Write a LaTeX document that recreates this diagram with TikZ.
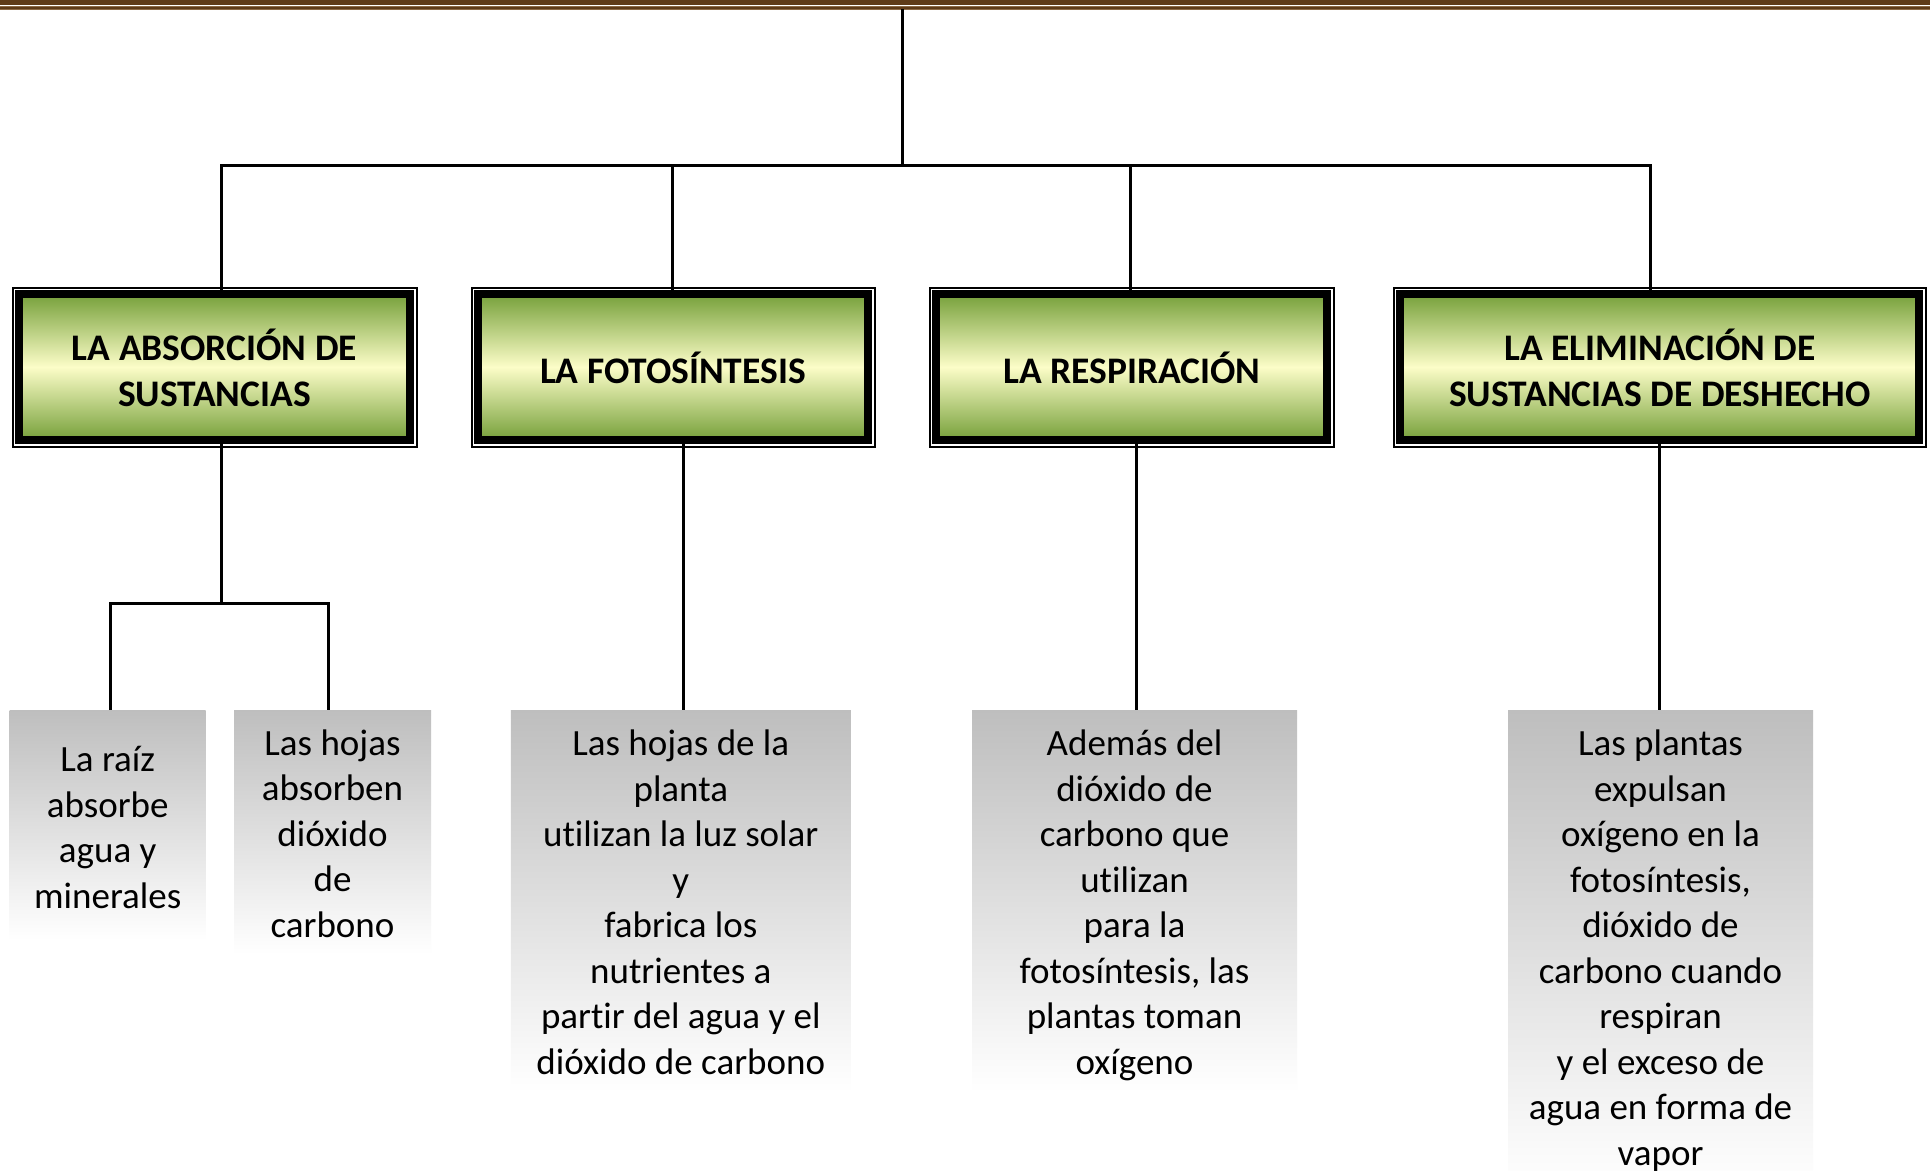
\documentclass[tikz,border=0pt]{standalone}
\usepackage{fontspec}
\setmainfont{Carlito}[Ligatures=NoCommon]
\definecolor{brownbar}{RGB}{94,58,24}
\definecolor{brownlight}{RGB}{140,105,70}
\definecolor{hgreen}{RGB}{118,160,58}
\definecolor{hyellow}{RGB}{252,253,200}
\definecolor{gtop}{RGB}{190,190,190}
\newcommand{\lowerstack}[2]{\raisebox{-#1}[\height][\depth]{\begin{tabular}{@{}c@{}}#2\end{tabular}}}
\begin{document}
\begin{tikzpicture}[x=1pt,y=-1pt,
  conn/.style={line width=3pt, black},
  hbox/.style={draw=black, line width=8pt, top color=hgreen, bottom color=hgreen, middle color=hyellow,
    inner sep=0pt, align=center, font=\bfseries\fontsize{37.5}{46}\selectfont,
    preaction={draw=black, line width=15pt}, preaction={draw=white, line width=11pt},
    minimum height=146pt},
  gbox/.style={top color=gtop, bottom color=white, inner sep=0pt, align=center,
    font=\fontsize{37}{45.5}\selectfont}]
\useasboundingbox (0,0) rectangle (1930,1170);
\fill[white] (0,0) rectangle (1930,1170);
% top border
\fill[brownbar] (0,0) rectangle (1930,4.5);
\draw[brownlight, line width=3.6pt] (0,8) -- (1930,8);
\draw[brownbar, line width=2pt] (0,8) -- (1930,8);
% header boxes
\node[hbox, minimum width=391pt] (h1) at (214.5,367) {\lowerstack{7.5pt}{LA ABSORCIÓN DE\\SUSTANCIAS}};
\node[hbox, minimum width=390pt] (h2) at (673,367) {\lowerstack{7.5pt}{LA FOTOSÍNTESIS}};
\node[hbox, minimum width=391pt] (h3) at (1131.8,367) {\lowerstack{7.5pt}{LA RESPIRACIÓN}};
\node[hbox, minimum width=519pt] (h4) at (1659.9,367) {\lowerstack{7.5pt}{LA ELIMINACIÓN DE\\SUSTANCIAS DE DESHECHO}};
% grey boxes
\node[gbox, minimum width=196pt, minimum height=230pt] (g1) at (107.7,825) {\lowerstack{6pt}{La raíz\\absorbe\\agua y\\minerales}};
\node[gbox, minimum width=197pt, minimum height=244pt] (g2) at (332.5,832) {\lowerstack{5pt}{Las hojas\\absorben\\dióxido\\de\\carbono}};
\node[gbox, minimum width=340pt, minimum height=382pt] (g3) at (680.8,901) {\lowerstack{5pt}{Las hojas de la\\planta\\utilizan la luz solar\\y\\fabrica los\\nutrientes a\\partir del agua y el\\dióxido de carbono}};
\node[gbox, minimum width=325pt, minimum height=382pt] (g4) at (1134.5,901) {\lowerstack{5pt}{Además del\\dióxido de\\carbono que\\utilizan\\para la\\fotosíntesis, las\\plantas toman\\oxígeno}};
\node[gbox, minimum width=305pt, minimum height=478pt] (g5) at (1660.5,949) {\lowerstack{2.5pt}{Las plantas\\expulsan\\oxígeno en la\\fotosíntesis,\\dióxido de\\carbono cuando\\respiran\\y el exceso de\\agua en forma de\\vapor}};
% connector coordinates
\coordinate (top) at (902,9);
\coordinate (hub) at (902,165);
\coordinate (j1) at (221.6,165);
\coordinate (j2) at (672,165);
\coordinate (j3) at (1130,165);
\coordinate (j4) at (1650.6,165);
\coordinate (k1) at (221.6,603);
\coordinate (l1) at (110.8,603);
\coordinate (l2) at (328.6,603);
\coordinate (d2) at (683,603);
\coordinate (d3) at (1136,603);
\coordinate (d4) at (1659,603);
% connectors
\draw[conn] (top) -- (hub);
\draw[conn] (h1.north -| j1) -- (j1) -- (j4) -- (h4.north -| j4);
\draw[conn] (j2) -- (h2.north -| j2);
\draw[conn] (j3) -- (h3.north -| j3);
\draw[conn] (h1.south -| k1) -- (k1);
\draw[conn] (g1.north -| l1) -- (l1) -- (l2) -- (g2.north -| l2);
\draw[conn] (h2.south -| d2) -- (g3.north -| d2);
\draw[conn] (h3.south -| d3) -- (g4.north -| d3);
\draw[conn] (h4.south -| d4) -- (g5.north -| d4);
\end{tikzpicture}
\end{document}
